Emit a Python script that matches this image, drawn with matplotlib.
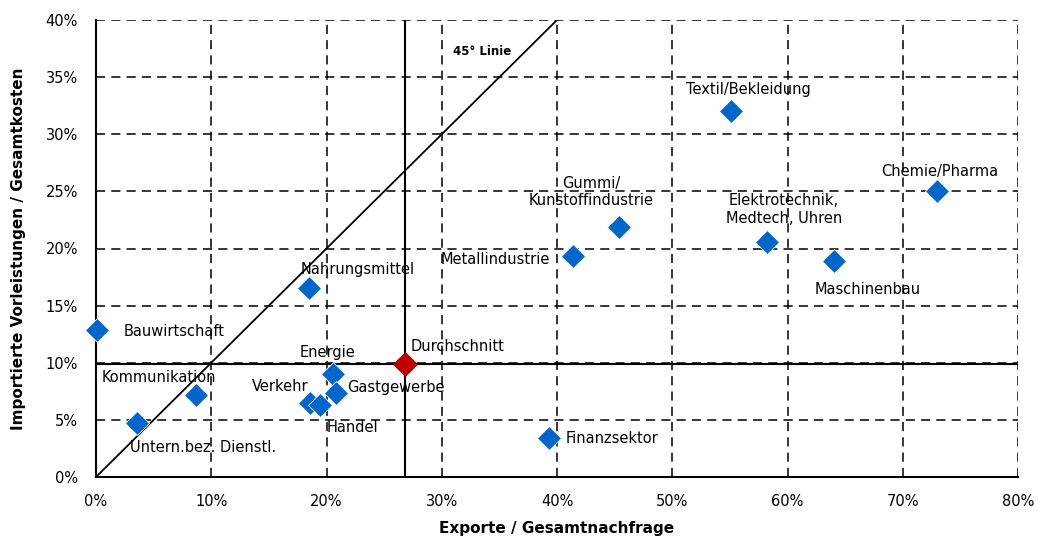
import matplotlib
matplotlib.use("Agg")
import matplotlib.pyplot as plt
from matplotlib.ticker import PercentFormatter, MultipleLocator

plt.rcParams['font.family'] = ['DejaVu Sans']

# Branchen: Exportanteil vs. Anteil importierter Vorleistungen
branchen = [
    "Bauwirtschaft", "Kommunikation", "Untern.bez. Dienstl.", "Nahrungsmittel",
    "Energie", "Gastgewerbe", "Verkehr", "Handel", "Finanzsektor",
    "Metallindustrie", "Gummi/\nKunstoffindustrie", "Textil/Bekleidung",
    "Elektrotechnik,\nMedtech, Uhren", "Maschinenbau", "Chemie/Pharma",
]
exporte = [0.001, 0.087, 0.036, 0.185, 0.206, 0.208, 0.186, 0.194, 0.393,
           0.414, 0.454, 0.551, 0.582, 0.640, 0.730]
importe = [0.129, 0.072, 0.047, 0.165, 0.090, 0.0735, 0.065, 0.063, 0.034,
           0.193, 0.219, 0.320, 0.206, 0.189, 0.250]

durchschnitt_x = 0.268
durchschnitt_y = 0.0985

# label offsets in pixels (dx, dy, ha)
label_pos = {
    "Bauwirtschaft": (26, -2, "left"),
    "Kommunikation": (20, 17, "right"),
    "Untern.bez. Dienstl.": (-7, -24, "left"),
    "Nahrungsmittel": (-9, 19, "left"),
    "Energie": (-6, 22, "center"),
    "Gastgewerbe": (11, 6, "left"),
    "Verkehr": (-2, 16, "right"),
    "Handel": (7, -22, "left"),
    "Finanzsektor": (17, 0, "left"),
    "Metallindustrie": (-23, -3, "right"),
    "Gummi/\nKunstoffindustrie": (-28, 35, "center"),
    "Textil/Bekleidung": (17, 22, "center"),
    "Elektrotechnik,\nMedtech, Uhren": (17, 32, "center"),
    "Maschinenbau": (34, -28, "center"),
    "Chemie/Pharma": (2, 20, "center"),
}

fig = plt.figure(figsize=(10.38, 5.39), dpi=100)
ax = fig.add_axes([96 / 1038, 1 - 477 / 539, 922 / 1038, 457 / 539])

ax.set_xlim(0, 0.8)
ax.set_ylim(0, 0.4)
ax.xaxis.set_major_locator(MultipleLocator(0.1))
ax.yaxis.set_major_locator(MultipleLocator(0.05))
ax.xaxis.set_major_formatter(PercentFormatter(1.0, decimals=0))
ax.yaxis.set_major_formatter(PercentFormatter(1.0, decimals=0))
ax.grid(True, color="black", linestyle=(0, (6, 4)), linewidth=1.1)
ax.set_axisbelow(True)
ax.tick_params(length=0, labelsize=10.5)
ax.tick_params(axis="y", pad=13)
ax.tick_params(axis="x", pad=12)

for side in ("top", "right"):
    ax.spines[side].set_visible(False)
for side in ("left", "bottom"):
    ax.spines[side].set_linewidth(1.5)

# 45° Linie und Durchschnittslinien
ax.plot([0, 0.4], [0, 0.4], color="black", linewidth=1.3, zorder=2)
ax.axvline(durchschnitt_x, color="black", linewidth=1.5, zorder=2)
ax.axhline(durchschnitt_y, color="black", linewidth=1.5, zorder=2)
ax.text(0.31, 0.372, "45° Linie", fontsize=8.5, fontweight="bold",
        ha="left", va="center")

ax.plot(exporte, importe, linestyle="none", marker="D", markersize=12,
        color="#0066CC", markeredgecolor="white", markeredgewidth=0.6,
        zorder=4, clip_on=False)
ax.plot([durchschnitt_x], [durchschnitt_y], marker="D", markersize=12,
        color="#C00000", markeredgecolor="#8B0000", markeredgewidth=0.6,
        zorder=5)

for name, x, y in zip(branchen, exporte, importe):
    dx, dy, ha = label_pos[name]
    ax.annotate(name, (x, y), xytext=(dx, dy), textcoords="offset pixels",
                ha=ha, va="center", fontsize=10.5, zorder=6)
ax.annotate("Durchschnitt", (durchschnitt_x, durchschnitt_y), xytext=(6, 18),
            textcoords="offset pixels", ha="left", va="center", fontsize=10.5)

ax.set_xlabel("Exporte / Gesamtnachfrage", fontsize=11, fontweight="bold",
              labelpad=9)
ax.set_ylabel("Importierte Vorleistungen / Gesamtkosten", fontsize=11,
              fontweight="bold", labelpad=14)

fig.savefig("out.png", dpi=100)
